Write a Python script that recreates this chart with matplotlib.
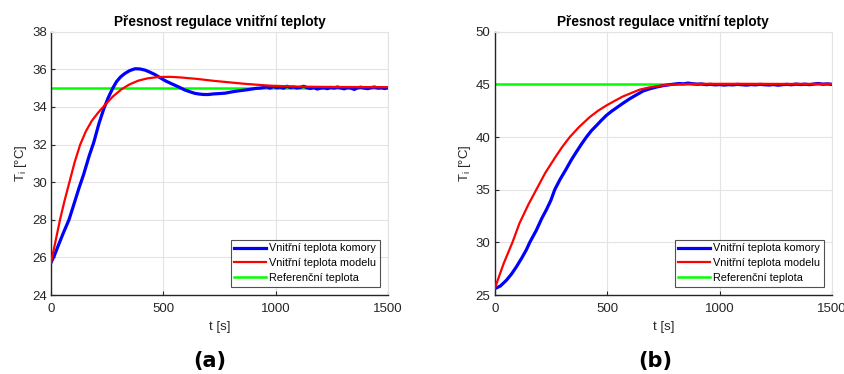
import numpy as np
import matplotlib
matplotlib.use("Agg")
import matplotlib.pyplot as plt

# --- panel (a): setpoint 35 °C ---
t_a_meas = [0, 15, 33, 55, 80, 100, 125, 145, 170, 190, 213, 235, 255, 275, 292, 310, 329, 350,
            374, 395, 418, 440, 463, 485, 507, 530, 552, 574, 596, 620, 641, 663, 682, 700, 722,
            748, 774, 796, 820, 845, 871, 893, 915,
            930, 945, 960, 975, 990, 1005, 1020, 1035, 1050, 1065, 1080, 1095, 1110, 1125, 1140,
            1155, 1170, 1185, 1200, 1215, 1230, 1245, 1260, 1275, 1290, 1305, 1320, 1335, 1350,
            1365, 1380, 1395, 1410, 1425, 1440, 1455, 1470, 1485, 1500]
T_a_meas = [25.72, 26.1, 26.65, 27.3, 28.0, 28.75, 29.7, 30.4, 31.4, 32.1, 33.1, 33.9, 34.5,
            35.0, 35.35, 35.6, 35.78, 35.93, 36.03, 36.02, 35.96, 35.85, 35.72, 35.56, 35.4,
            35.27, 35.15, 35.03, 34.9, 34.8, 34.72, 34.68, 34.66, 34.66, 34.69, 34.71, 34.73,
            34.78, 34.83, 34.87, 34.91, 34.95, 34.99,
            35.0, 35.03, 35.06, 35.0, 35.08, 35.02, 35.05, 35.0, 35.1, 35.03, 35.06, 35.01,
            35.04, 35.1, 35.02, 34.98, 35.03, 34.95, 35.0, 35.02, 34.97, 35.04, 35.0, 35.06,
            35.01, 34.96, 35.03, 35.0, 34.93, 35.02, 35.05, 35.0, 34.97, 35.03, 35.06, 35.0,
            35.02, 34.98, 35.02]

t_a_model = [0, 20, 40, 60, 82, 105, 130, 155, 181, 210, 240, 275, 315, 350, 389, 430, 478,
             530, 574, 650, 722, 800, 871, 975, 1100, 1250, 1500]
T_a_model = [25.72, 26.85, 28.0, 29.0, 30.0, 31.05, 32.0, 32.7, 33.25, 33.7, 34.1, 34.55,
             34.95, 35.2, 35.4, 35.52, 35.59, 35.6, 35.57, 35.49, 35.39, 35.3, 35.22,
             35.13, 35.08, 35.06, 35.05]

# --- panel (b): setpoint 45 °C ---
t_b_meas = [0, 25, 52, 75, 96, 120, 141, 156, 185, 210, 230, 250, 267, 290, 319, 340, 363,
            385, 408, 430, 453, 475, 497, 520, 542, 570, 601, 630, 660, 690, 720, 750, 779,
            800, 820, 840, 860, 880, 900, 920, 940, 960, 980, 1000, 1020, 1040, 1060, 1080,
            1100, 1120, 1140, 1160, 1180, 1200, 1220, 1240, 1260, 1280, 1300, 1320, 1340,
            1360, 1380, 1400, 1420, 1440, 1460, 1480, 1500]
T_b_meas = [25.6, 25.85, 26.4, 27.0, 27.66, 28.5, 29.3, 30.0, 31.14, 32.3, 33.1, 34.0, 35.0,
            35.95, 37.0, 37.8, 38.58, 39.3, 40.0, 40.6, 41.1, 41.6, 42.06, 42.45, 42.78, 43.2,
            43.64, 44.0, 44.37, 44.58, 44.75, 44.88, 44.97, 45.03, 45.08, 45.05, 45.12, 45.06,
            45.02, 45.04, 44.97, 45.0, 44.95, 44.98, 44.93, 44.97, 44.95, 45.0, 44.96, 44.93,
            44.98, 44.95, 45.0, 44.96, 44.94, 44.98, 44.92, 44.97, 45.0, 44.96, 45.03, 44.98,
            45.02, 44.97, 45.04, 45.08, 45.02, 45.05, 45.0]

t_b_model = [0, 40, 79, 110, 150, 185, 225, 270, 300, 334, 375, 423, 460, 497, 535, 571,
             610, 645, 685, 720, 760, 794, 850, 950, 1100, 1300, 1500]
T_b_model = [25.6, 28.0, 30.0, 31.8, 33.6, 35.0, 36.6, 38.1, 39.05, 40.0, 40.95, 41.9, 42.5,
             43.0, 43.45, 43.86, 44.2, 44.5, 44.7, 44.82, 44.93, 44.98, 45.03, 45.05, 45.05,
             45.04, 45.04]

setpoints = [35, 45]
ylims = [(24, 38), (25, 50)]
yticks = [np.arange(24, 39, 2), np.arange(25, 51, 5)]
xticks = [0, 500, 1000, 1500]
panel_tags = ["(a)", "(b)"]

title = "Přesnost regulace vnitřní teploty"
labels = ["Vnitřní teplota komory", "Vnitřní teplota modelu", "Referenční teplota"]

plt.rcParams["font.family"] = ["Liberation Sans", "DejaVu Sans"]

W, H = 844, 374
fig = plt.figure(figsize=(W / 100, H / 100), dpi=100)

# axes boxes in pixels: left, right, top, bottom
boxes = [(51, 388, 31.7, 295), (494.7, 832, 31.7, 295)]
data = [(t_a_meas, T_a_meas, t_a_model, T_a_model), (t_b_meas, T_b_meas, t_b_model, T_b_model)]
tag_x = [210, 655]

for i, (l, r, top, bot) in enumerate(boxes):
    ax = fig.add_axes([l / W, 1 - bot / H, (r - l) / W, (bot - top) / H])
    tm, Tm, tmod, Tmod = data[i]
    ax.plot(tm, Tm, color="#0000ff", lw=2.3, label=labels[0], zorder=3)
    ax.plot(tmod, Tmod, color="#ff0000", lw=1.6, label=labels[1], zorder=4)
    ax.plot([0, 1500], [setpoints[i]] * 2, color="#00ff00", lw=1.8, label=labels[2], zorder=2)
    ax.set_xlim(0, 1500)
    ax.set_ylim(*ylims[i])
    ax.set_xticks(xticks)
    ax.set_yticks(yticks[i])
    ax.grid(True, color="#e3e3e3", lw=0.8)
    ax.set_axisbelow(True)
    for s in ["top", "right"]:
        ax.spines[s].set_color("#e3e3e3")
        ax.spines[s].set_linewidth(0.8)
    for s in ["left", "bottom"]:
        ax.spines[s].set_color("#262626")
        ax.spines[s].set_linewidth(1.0)
    ax.tick_params(direction="in", length=3, width=0.8, colors="#262626",
                   labelsize=9.5, labelcolor="#262626")
    ax.tick_params(axis="x", pad=6)
    ax.tick_params(axis="y", pad=3)
    ax.set_title(title, fontsize=9.8, fontweight="bold", color="black", pad=4)
    ax.set_xlabel("t [s]", fontsize=9.5, color="#262626", labelpad=4)
    ax.set_ylabel("T$_\\mathregular{i}$ [°C]", fontsize=9.5, color="#262626", labelpad=2)
    leg = ax.legend(loc="lower right", fontsize=7.8, frameon=True, fancybox=False,
                    edgecolor="#262626", handlelength=2.9, handletextpad=0.3,
                    borderpad=0.35, labelspacing=0.45, borderaxespad=0.75)
    leg.get_frame().set_linewidth(0.8)
    fig.text(tag_x[i] / W, 1 - 361 / H, panel_tags[i], ha="center", va="center",
             fontsize=15, fontweight="bold", family="DejaVu Sans")

fig.savefig("out.png", dpi=100)
